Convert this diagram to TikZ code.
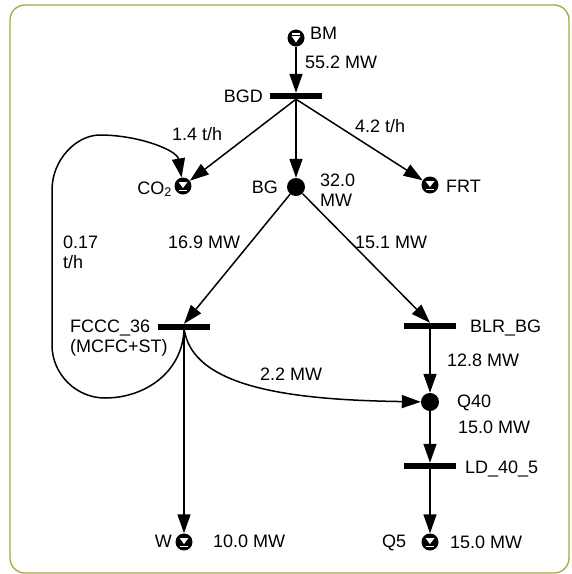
\documentclass[tikz,border=0pt]{standalone}
\usepackage{fontspec}
\setmainfont{Liberation Sans}
\usetikzlibrary{arrows.meta}
\definecolor{framec}{RGB}{168,166,64}
\tikzset{
  lbl/.style={font=\fontsize{18}{20}\selectfont, inner sep=0pt, anchor=base west, align=left},
  lblr/.style={lbl, anchor=base east, align=right},
  bar/.style={rectangle, fill=black, minimum width=52pt, minimum height=6pt, inner sep=0pt},
  jn/.style={circle, fill=black, minimum size=18pt, inner sep=0pt},
  sink/.style={circle, fill=black, minimum size=17pt, inner sep=0pt,
    path picture={\begin{scope}[shift={(path picture bounding box.center)}]
      \fill[white] (-4.5,-4) -- (4.5,-4) -- (0,2) -- cycle;
      \fill[white] (-4,3.5) rectangle (4,5);
    \end{scope}}},
  src/.style={circle, fill=black, minimum size=17pt, inner sep=0pt,
    path picture={\begin{scope}[shift={(path picture bounding box.center)}]
      \fill[white] (-4,-5) rectangle (4,-3.5);
      \fill[white] (-4.5,-2) -- (4.5,-2) -- (0,4.5) -- cycle;
    \end{scope}}},
  ar/.style={-{Triangle[length=19pt,width=13pt]}, line width=1.5pt},
}

\begin{document}
\begin{tikzpicture}[x=1pt,y=-1pt]
\useasboundingbox (0,0) rectangle (572,574);
\draw[framec, line width=1.3pt, rounded corners=15pt] (10,5) rectangle (569,573);

% ===================== nodes =====================
\node[src]  (BM)   at (296,38)  {};
\node[bar]  (BGD)  at (296,96)  {};
\node[sink] (CO2)  at (183,186) {};
\node[jn]   (BG)   at (296,187) {};
\node[sink] (FRT)  at (430,185) {};
\node[bar]  (FCCC) at (184,327) {};
\node[bar]  (BLR)  at (430,326) {};
\node[jn]   (Q40)  at (430,402) {};
\node[bar]  (LD)   at (430,466) {};
\node[sink] (W)    at (184,542) {};
\node[sink] (Q5)   at (430,542) {};

% ===================== labels =====================
\node[lbl]  (tBM)   at (310,39.5) {BM};
\node[lbl]  (fBM)   at (305,68)   {55.2 MW};
\node[lblr] (tBGD)  at (263,102)  {BGD};
\node[lbl]  (fCO2)  at (172,140)  {1.4 t/h};
\node[lbl]  (fFRT)  at (355,132)  {4.2 t/h};
\node[lblr] (tCO2)  at (172,194)  {CO\textsubscript{2}};
\node[lblr] (tBG)   at (278,193.5){BG};
\node[lbl]  (fBG)   at (320,206)  {32.0\\MW};
\node[lbl]  (tFRT)  at (446,192)  {FRT};
\node[lbl]  (fLoop) at (63,268)   {0.17\\t/h};
\node[lbl]  (fFCCC) at (168,248)  {16.9 MW};
\node[lbl]  (fBLR)  at (355,248)  {15.1 MW};
\node[lbl]  (tFCCC) at (70,352)   {FCCC\_36\\(MCFC+ST)};
\node[lbl]  (tBLR)  at (470,332)  {BLR\_BG};
\node[lbl]  (fQ40a) at (447,366)  {12.8 MW};
\node[lbl]  (fQ40b) at (260,380)  {2.2 MW};
\node[lbl]  (tQ40)  at (457,407)  {Q40};
\node[lbl]  (fLD)   at (458,433)  {15.0 MW};
\node[lbl]  (tLD)   at (465,473)  {LD\_40\_5};
\node[lblr] (tW)    at (172,547)  {W};
\node[lbl]  (fW)    at (213,547)  {10.0 MW};
\node[lbl]  (tQ5)   at (382,547)  {Q5};
\node[lbl]  (fQ5)   at (450,548)  {15.0 MW};

% ===================== flows =====================
\draw[ar] (BM) -- (BGD.north);
\draw[ar] (BGD.south) -- (CO2);
\draw[ar] (BGD.south) -- (BG);
\draw[ar] (BGD.south) -- (FRT);
\draw[ar] (BG) -- (FCCC.north);
\draw[ar] (BG) -- (BLR.north);
\draw[ar] (BLR.south) -- (Q40);
\draw[ar] (Q40) -- (LD.north);
\draw[ar] (LD.south) -- (Q5);
\draw[ar] (FCCC.center) -- (W);
\draw[ar] (FCCC.center) .. controls (190,390) and (300,400) .. (Q40);

% recycle loop back to CO2
\draw[ar] (FCCC.center) .. controls (184,371) and (146,398) .. (105,398)
  .. controls (76,398) and (52,374) .. (52,345) -- (52,190)
  .. controls (52,160) and (76,135) .. (100,135)
  .. controls (138,135) and (177,150) .. (CO2);

\end{tikzpicture}
\end{document}
